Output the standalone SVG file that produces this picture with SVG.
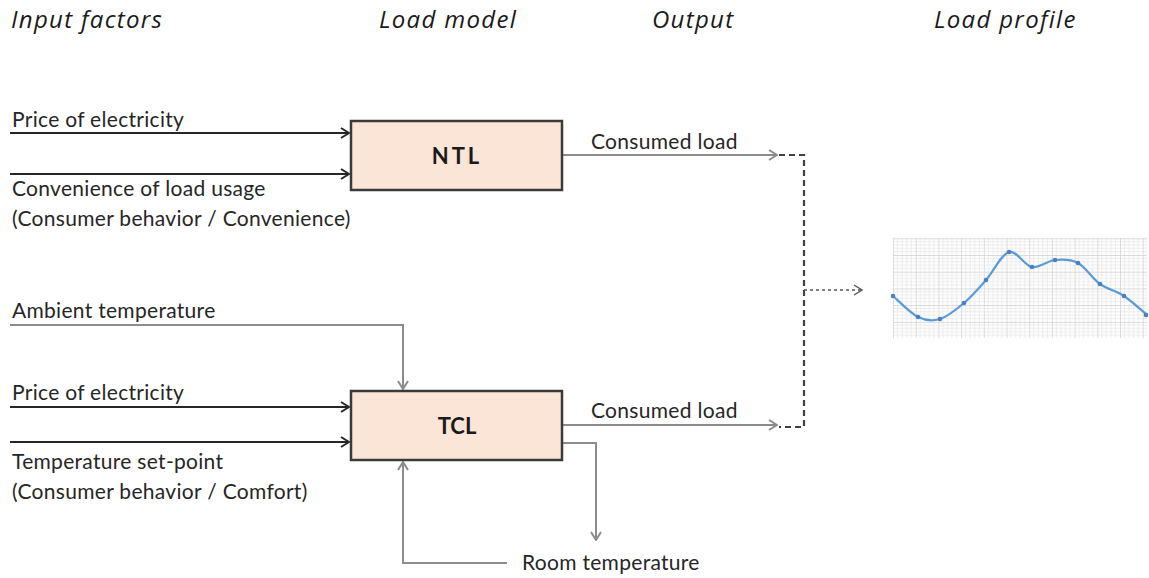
<svg xmlns="http://www.w3.org/2000/svg" width="1149" height="578" viewBox="0 0 1149 578">
  <style>
    .head { font-family: "Open Sans", Lato, sans-serif; font-style: italic; font-size: 24px; letter-spacing: 1.3px; fill: #1a1a1a; }
    .lbl { font-family: Lato, "Liberation Sans", sans-serif; font-size: 21px; letter-spacing: 0.3px; fill: #262626; }
    .box { fill: #fbe5d6; stroke: #3a3a3a; stroke-width: 2.5; }
    .boxtxt { font-family: Lato, "Liberation Sans", sans-serif; font-weight: bold; font-size: 22px; fill: #1a1a1a; text-anchor: middle; }
    .in { fill: none; stroke: #262626; stroke-width: 2.2; }
    .gray { fill: none; stroke: #8c8c8c; stroke-width: 2; }
    .dash { fill: none; stroke: #404040; stroke-width: 2.2; stroke-dasharray: 6 4; }
    .dot { fill: none; stroke: #555; stroke-width: 1.3; stroke-dasharray: 3 3; }
  </style>
  <defs>
    <marker id="arrowDark" viewBox="0 0 10 12" refX="9" refY="6" markerWidth="10" markerHeight="12" markerUnits="userSpaceOnUse" orient="auto">
      <path d="M1,1 L9,6 L1,11" fill="none" stroke="#262626" stroke-width="2"/>
    </marker>
    <marker id="arrowGray" viewBox="0 0 10 12" refX="9" refY="6" markerWidth="10" markerHeight="12" markerUnits="userSpaceOnUse" orient="auto">
      <path d="M1,1 L9,6 L1,11" fill="none" stroke="#8c8c8c" stroke-width="2"/>
    </marker>
    <marker id="arrowThin" viewBox="0 0 10 12" refX="9" refY="6" markerWidth="10" markerHeight="12" markerUnits="userSpaceOnUse" orient="auto">
      <path d="M1,1 L9,6 L1,11" fill="none" stroke="#555" stroke-width="1.3"/>
    </marker>
    <pattern id="grid" x="893" y="238.3" width="22.7" height="16.7" patternUnits="userSpaceOnUse">
      <path d="M0,3.34 H22.7 M0,6.68 H22.7 M0,10.02 H22.7 M0,13.36 H22.7 M4.54,0 V16.7 M9.08,0 V16.7 M13.62,0 V16.7 M18.16,0 V16.7" stroke="#e8e8e8" stroke-width="0.8"/>
      <path d="M0,0.4 H22.7 M0.4,0 V16.7" stroke="#d4d4d4" stroke-width="0.9"/>
    </pattern>
  </defs>

  <!-- column headings -->
  <g id="headings">
    <text class="head" x="11" y="28">Input factors</text>
    <text class="head" x="379" y="28">Load model</text>
    <text class="head" x="652" y="28">Output</text>
    <text class="head" x="934" y="28">Load profile</text>
  </g>

  <!-- input factor labels -->
  <g id="inputs">
    <text class="lbl" x="12" y="127">Price of electricity</text>
    <text class="lbl" x="12" y="196">Convenience of load usage</text>
    <text class="lbl" x="12" y="226">(Consumer behavior / Convenience)</text>
    <text class="lbl" x="12" y="318">Ambient temperature</text>
    <text class="lbl" x="12" y="400">Price of electricity</text>
    <text class="lbl" x="12" y="469">Temperature set-point</text>
    <text class="lbl" x="12" y="499">(Consumer behavior / Comfort)</text>
  </g>

  <!-- connectors -->
  <g id="connectors">
    <line class="in" x1="10" y1="133" x2="349" y2="133" marker-end="url(#arrowDark)"/>
    <line class="in" x1="10" y1="174" x2="349" y2="174" marker-end="url(#arrowDark)"/>
    <line class="in" x1="10" y1="407" x2="349" y2="407" marker-end="url(#arrowDark)"/>
    <line class="in" x1="10" y1="442" x2="349" y2="442" marker-end="url(#arrowDark)"/>
    <polyline class="gray" points="10,325 403,325 403,389" marker-end="url(#arrowGray)"/>
    <polyline class="gray" points="507,563 403,563 403,462" marker-end="url(#arrowGray)"/>
    <polyline class="gray" points="563,443 596,443 596,540" marker-end="url(#arrowGray)"/>
    <line class="gray" x1="563" y1="155" x2="777" y2="155" marker-end="url(#arrowGray)"/>
    <line class="gray" x1="563" y1="425" x2="777" y2="425" marker-end="url(#arrowGray)"/>
    <polyline class="dash" points="779,155 804,155 804,427 779,427"/>
    <line class="dot" x1="804" y1="290" x2="862" y2="290" marker-end="url(#arrowThin)"/>
  </g>

  <g id="node-ntl">
    <rect class="box" x="351" y="121" width="211" height="69"/>
    <text class="boxtxt" x="457" y="164" letter-spacing="3">NTL</text>
  </g>

  <g id="node-tcl">
    <rect class="box" x="351" y="391" width="211" height="69"/>
    <text class="boxtxt" x="457" y="434">TCL</text>
  </g>

  <!-- output labels -->
  <g id="outputs">
    <text class="lbl" x="591" y="149">Consumed load</text>
    <text class="lbl" x="591" y="418">Consumed load</text>
    <text class="lbl" x="522" y="570">Room temperature</text>
  </g>

  <!-- load profile chart -->
  <g id="load-profile">
    <rect x="893" y="238" width="254" height="100" fill="url(#grid)"/>
    <path d="M893,296 C897.2,299.5 910.2,313.2 918,317 C925.8,320.8 932.3,321.3 940,319 C947.7,316.7 956.3,309.5 964,303 C971.7,296.5 978.5,288.5 986,280 C993.5,271.5 1001.3,254.2 1009,252 C1016.7,249.8 1024.3,265.7 1032,267 C1039.7,268.3 1047.3,260.7 1055,260 C1062.7,259.3 1070.5,259 1078,263 C1085.5,267 1092.3,278.5 1100,284 C1107.7,289.5 1116.2,290.8 1124,296 C1131.8,301.2 1143.2,311.8 1147,315" fill="none" stroke="#5b9bd5" stroke-width="2.2"/>
    <g fill="#4a7fc0">
      <circle cx="893" cy="296" r="2.3"/>
      <circle cx="918" cy="317" r="2.3"/>
      <circle cx="940" cy="319" r="2.3"/>
      <circle cx="964" cy="303" r="2.3"/>
      <circle cx="986" cy="280" r="2.3"/>
      <circle cx="1009" cy="252" r="2.3"/>
      <circle cx="1032" cy="267" r="2.3"/>
      <circle cx="1055" cy="260" r="2.3"/>
      <circle cx="1078" cy="263" r="2.3"/>
      <circle cx="1100" cy="284" r="2.3"/>
      <circle cx="1124" cy="296" r="2.3"/>
      <circle cx="1146" cy="315" r="2.3"/>
    </g>
  </g>
</svg>
